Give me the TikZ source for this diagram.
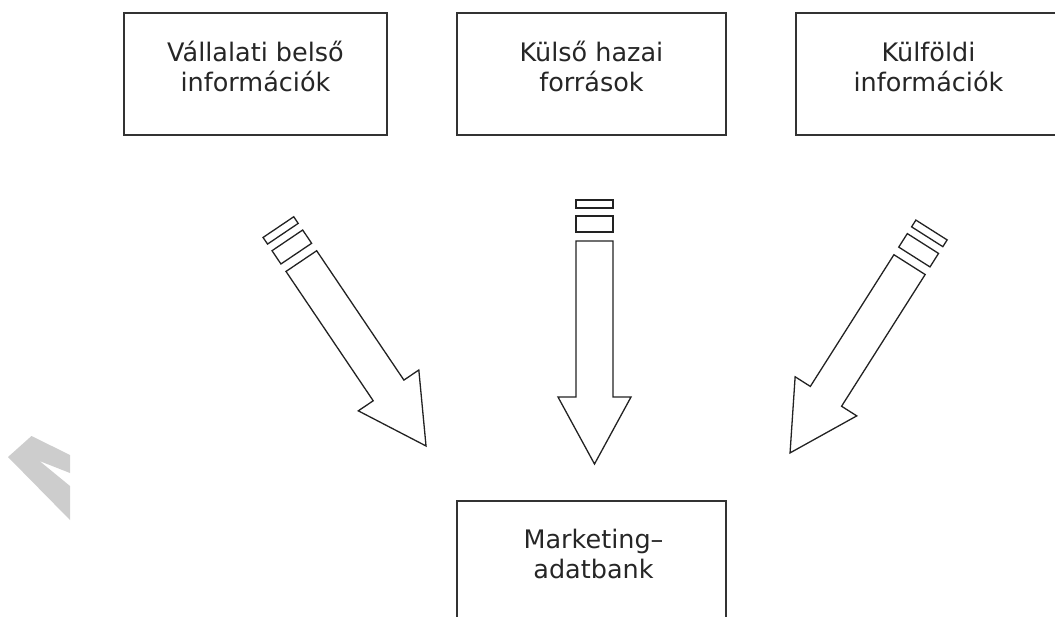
\documentclass[tikz,border=0pt]{standalone}
\usepackage{fontspec}
\setmainfont{DejaVu Sans}
\usepackage{tikz}
\usetikzlibrary{arrows,positioning}
\definecolor{keret}{HTML}{333333}
\definecolor{nyil}{HTML}{222222}
\definecolor{betu}{HTML}{262626}
\definecolor{halvany}{HTML}{CDCDCD}
\newcommand\csikosnyil[2]{%% #1: tail coordinate, #2: angle
  \begin{scope}[shift={(#1)},rotate=#2,draw=nyil,line width=1.3pt,line join=miter]
    \draw (0,-18.5) rectangle (8,18.5); %%
    \draw (16,-18.5) rectangle (32,18.5); %%
    \draw (41,-18.5) -- (197,-18.5) -- (197,-36.5) -- (264,0) -- (197,36.5) -- (197,18.5) -- (41,18.5) -- cycle; %%
  \end{scope}}

\begin{document}
\begin{tikzpicture}[x=1pt,y=-1pt,
    doboz/.style={draw=keret,line width=1.5pt,minimum height=122pt,inner sep=0pt},
    szoveg/.style={font=\fontsize{25.5}{30}\selectfont,align=center,inner sep=0pt,text=betu}]%
        \useasboundingbox (0,0) rectangle (1055,616); %%
        \clip (0,0) rectangle (1055,616); %%
        \fill[halvany] (8,457) -- (31.5,436) -- (70,455) -- (70,473) -- (39.5,461) -- (70,486) -- (70,520) -- cycle; %%
        \node[doboz,minimum width=263pt] (belso) at (255.5,74) {}; %%
        \node[doboz,minimum width=269pt] (hazai) at (591.5,74) {}; %%
        \node[doboz,minimum width=265pt] (kulfold) at (928.5,74) {}; %%
        \node[doboz,minimum width=269pt] (bank) at (591.5,562) {}; %%
        \node[szoveg,below=28.6pt of belso.north] (belsotxt) {Vállalati belső\\információk}; %%
        \node[szoveg,below=28.6pt of hazai.north] (hazaitxt) {Külső hazai\\források}; %%
        \node[szoveg,below=29.6pt of kulfold.north] (kulfoldtxt) {Külföldi\\információk}; %%
        \node[szoveg,below=28.6pt of bank.north,xshift=2pt] (banktxt) {Marketing–\\adatbank}; %%
        \coordinate (t1) at (278.4,227.1); %%
        \coordinate (t2) at (594.5,200); %%
        \coordinate (t3) at (931.5,230); %%
        \csikosnyil{t1}{-56}
        \csikosnyil{t2}{-90}
        \csikosnyil{t3}{-122.4}
\end{tikzpicture}
\end{document}
